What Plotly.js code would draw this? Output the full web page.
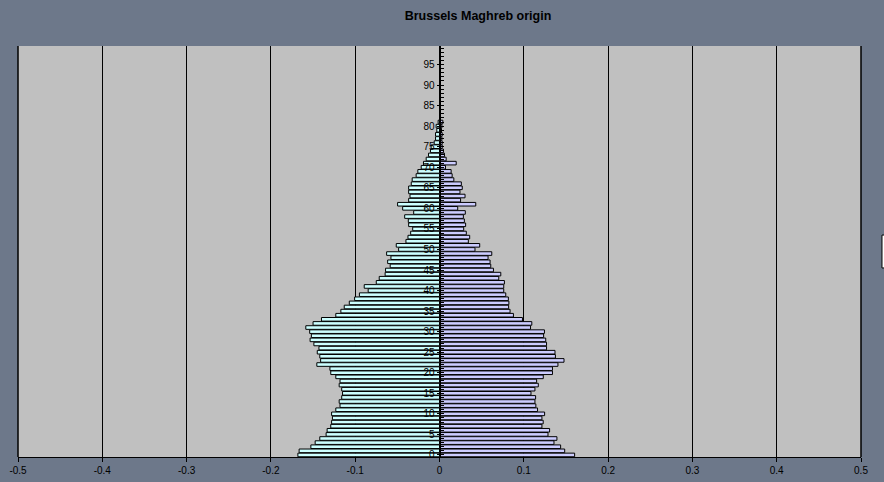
<!DOCTYPE html>
<html>
<head>
<meta charset="utf-8">
<script src="https://cdn.plot.ly/plotly-3.0.1.min.js"></script>
<style>
  html, body { margin: 0; padding: 0; background: #6d788a; }
  #chart { width: 884px; height: 482px; }
</style>
</head>
<body>
<div id="chart"></div>
<script>
// Age categories (single years)
const ages = [0,1,2,3,4,5,6,7,8,9,10,11,12,13,14,15,16,17,18,19,
  20,21,22,23,24,25,26,27,28,29,30,31,32,33,34,35,36,37,38,39,
  40,41,42,43,44,45,46,47,48,49,50,51,52,53,54,55,56,57,58,59,
  60,61,62,63,64,65,66,67,68,69,70,71,72,73,74,75,76,77,78,79,
  80,81,82,83,84,85,86,87,88,89,90,91,92,93,94,95,96,97,98,99];

// Left side (drawn to the negative side)
const leftSeries = [-0.168,-0.1665,-0.1526,-0.1475,-0.142,-0.1345,-0.1333,-0.129,-0.128,-0.127,
  -0.128,-0.123,-0.118,-0.119,-0.116,-0.115,-0.116,-0.119,-0.118,-0.123,
  -0.129,-0.130,-0.1455,-0.141,-0.142,-0.145,-0.143,-0.149,-0.1535,-0.152,
  -0.154,-0.1586,-0.150,-0.140,-0.123,-0.117,-0.113,-0.107,-0.1007,-0.095,
  -0.0846,-0.0893,-0.075,-0.0715,-0.0645,-0.064,-0.0585,-0.0615,-0.0576,-0.0627,
  -0.0485,-0.0513,-0.0398,-0.0374,-0.0342,-0.0318,-0.0366,-0.037,-0.0413,-0.0306,
  -0.0437,-0.0497,-0.0366,-0.035,-0.0366,-0.0366,-0.0335,-0.0324,-0.0277,-0.0257,
  -0.0217,-0.019,-0.0158,-0.013,-0.0107,-0.0099,-0.0063,-0.0047,-0.0047,-0.0032,
  -0.004,-0.0016,0,0,0,0,0,0,0,0,
  0,0,0,0,0,0,0,0,0,0];

// Right side
const rightSeries = [0.1603,0.1485,0.1437,0.1358,0.1393,0.1287,0.1306,0.1215,0.123,0.1215,
  0.1247,0.1163,0.1143,0.1132,0.114,0.1085,0.1132,0.1172,0.1152,0.1231,
  0.134,0.134,0.1405,0.1477,0.1375,0.137,0.127,0.127,0.126,0.1235,
  0.1245,0.108,0.1095,0.0984,0.0877,0.0837,0.082,0.0823,0.0817,0.0786,
  0.0762,0.0762,0.077,0.0703,0.0727,0.064,0.0608,0.06,0.0576,0.062,
  0.0421,0.0477,0.0342,0.0358,0.0318,0.0287,0.031,0.0295,0.0283,0.0306,
  0.0216,0.043,0.025,0.0303,0.0243,0.027,0.0259,0.017,0.015,0.0138,
  0.0071,0.0198,0.0079,0.0059,0.0047,0.0032,0.0032,0.0028,0.0032,0.0024,
  0.0028,0.004,0,0,0,0,0,0,0,0,
  0,0,0,0,0,0,0,0,0,0];

const xTicks = [-0.5,-0.4,-0.3,-0.2,-0.1,0,0.1,0.2,0.3,0.4,0.5];
const xTickText = ['-0.5','-0.4','-0.3','-0.2','-0.1','0','0.1','0.2','0.3','0.4','0.5'];
const yTicks = [0,5,10,15,20,25,30,35,40,45,50,55,60,65,70,75,80,85,90,95];

const FONT = 'Arial, "Liberation Sans", sans-serif';

const traces = [
  { type: 'bar', orientation: 'h', x: leftSeries, y: ages, name: 'left',
    marker: { color: '#ccffff', line: { color: '#000000', width: 1 } },
    hoverinfo: 'x+y' },
  { type: 'bar', orientation: 'h', x: rightSeries, y: ages, name: 'right',
    marker: { color: '#ccccff', line: { color: '#000000', width: 1 } },
    hoverinfo: 'x+y' }
];

const layout = {
  width: 884, height: 482,
  margin: { l: 18, r: 23, t: 46, b: 25, pad: 0 },
  paper_bgcolor: '#6d788a',
  plot_bgcolor: '#c0c0c0',
  showlegend: false,
  barmode: 'overlay',
  bargap: 0.12,
  title: {
    text: 'Brussels Maghreb origin',
    font: { family: FONT, size: 12.5, color: '#000000', weight: 'bold' },
    x: 478 / 884, xanchor: 'center', xref: 'container',
    y: 1 - 16 / 482, yanchor: 'middle', yref: 'container'
  },
  xaxis: {
    range: [-0.5, 0.5],
    tickvals: xTicks, ticktext: xTickText,
    showgrid: true, gridcolor: '#000000', gridwidth: 1,
    zeroline: false,
    showline: true, linecolor: '#000000', linewidth: 1,
    ticks: 'outside', ticklen: 4, tickcolor: '#000000',
    tickfont: { family: FONT, size: 10, color: '#000000' },
    fixedrange: true
  },
  yaxis: {
    range: [-0.5, 99.5],
    anchor: 'free', position: 0.5, side: 'left',
    tickvals: yTicks,
    showgrid: false, zeroline: false,
    showline: true, linecolor: '#000000', linewidth: 1,
    ticks: 'outside', ticklen: 3, tickcolor: '#000000',
    minor: { dtick: 1, ticks: 'inside', ticklen: 3, tickcolor: '#000000' },
    tickfont: { family: FONT, size: 10, color: '#000000' },
    fixedrange: true
  },
  shapes: [
    { type: 'rect', xref: 'paper', yref: 'paper', x0: 0, x1: 0, y0: 0, y1: 1,
      line: { color: '#000000', width: 1 } },
    { type: 'rect', xref: 'paper', yref: 'paper', x0: 1, x1: 1, y0: 0, y1: 1,
      line: { color: '#000000', width: 1 } },
    { type: 'rect', xref: 'paper', yref: 'paper', x0: 1.0249, x1: 1.06, y0: 0.46, y1: 0.54,
      fillcolor: '#ffffff', line: { color: '#000000', width: 1 } }
  ]
};

Plotly.newPlot('chart', traces, layout, { displayModeBar: false, staticPlot: true });
</script>
</body>
</html>
